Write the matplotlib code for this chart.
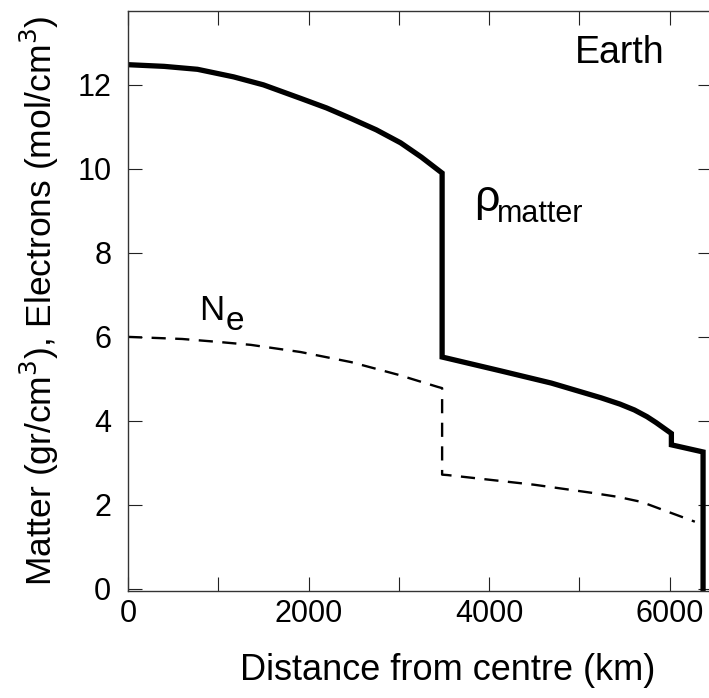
import numpy as np
import matplotlib
matplotlib.use('Agg')
import matplotlib.pyplot as plt

plt.rcParams['font.family'] = ['Liberation Sans', 'DejaVu Sans']

# matter density (g/cm3) vs distance from centre (km)
r_matter = [0, 400, 770, 1170, 1500, 1910, 2200, 2470, 2750, 3020, 3250, 3480,
            3480, 3520, 4130, 4690, 5240, 5450, 5610, 5750, 5850, 6020,
            6020, 6371, 6371]
rho_matter = [12.48, 12.44, 12.37, 12.19, 12.0, 11.68, 11.45, 11.2, 10.93, 10.62, 10.28, 9.9,
              5.52, 5.5, 5.19, 4.9, 4.55, 4.4, 4.26, 4.1, 3.96, 3.7,
              3.43, 3.26, 0.0]

# electron density (mol/cm3)
r_elec = [0, 600, 1000, 1360, 1910, 2470, 2990, 3430, 3480,
          3480, 3540, 4500, 5130, 5430, 5690, 5990, 6280]
n_elec = [6.0, 5.95, 5.88, 5.81, 5.64, 5.4, 5.1, 4.81, 4.78,
          2.72, 2.71, 2.48, 2.29, 2.19, 2.07, 1.83, 1.6]

x_ticks = [0, 1000, 2000, 3000, 4000, 5000, 6000]
x_labels = ['0', '', '2000', '', '4000', '', '6000']
y_ticks = [0, 2, 4, 6, 8, 10, 12]

fig = plt.figure(figsize=(7.09, 6.98), dpi=100)
ax = fig.add_axes([128 / 709, 107 / 698, 584 / 709, 580.5 / 698])

ax.plot(r_matter, rho_matter, color='black', lw=3.8, solid_joinstyle='miter')
ax.plot(r_elec, n_elec, color='black', lw=1.7, dashes=(6, 4))

ax.set_xlim(0, 6470)
ax.set_ylim(-0.05, 13.77)
ax.set_xticks(x_ticks)
ax.set_xticklabels(x_labels)
ax.set_yticks(y_ticks)
ax.tick_params(direction='in', length=10, width=0.8, labelsize=22,
               top=True, right=True, color='#222222', labelcolor='black')
ax.tick_params(axis='x', pad=6)
ax.tick_params(axis='y', pad=12)
for s in ax.spines.values():
    s.set_linewidth(1.0)
    s.set_color('#333333')

ax.set_xlabel('Distance from centre (km)', fontsize=26)
ax.xaxis.set_label_coords(0.548, -0.107)
ax.set_ylabel('Matter (gr/cm$^3$), Electrons (mol/cm$^3$)', fontsize=25.5)
ax.yaxis.set_label_coords(-0.114, 0.5)

ax.text(4950, 12.52, 'Earth', fontsize=27, ha='left', va='baseline')
ax.text(3840, 9.0, 'ρ', fontsize=32, ha='left', va='baseline')
ax.text(4090, 8.74, 'matter', fontsize=22, ha='left', va='baseline')
ax.text(790, 6.40, 'N', fontsize=25, ha='left', va='baseline')
ax.text(1085, 6.17, 'e', fontsize=24, ha='left', va='baseline')

fig.savefig('out.png', dpi=100)
